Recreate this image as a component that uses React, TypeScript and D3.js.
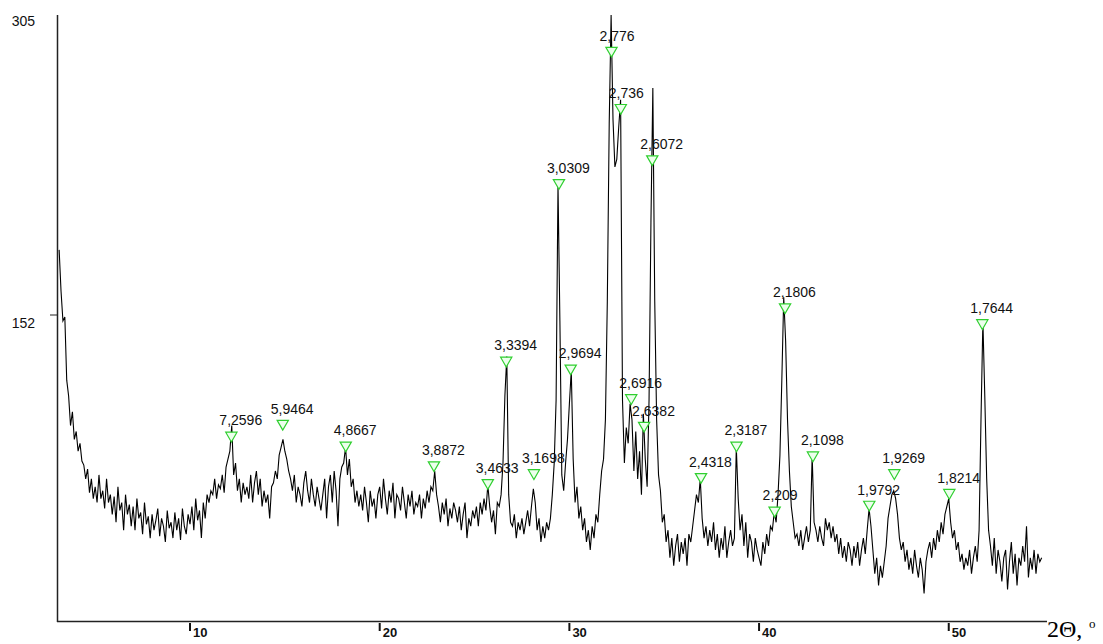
import * as d3 from 'd3';

// diffraction pattern, 2θ from 3.1° in 0.1° steps
const startAngle = 3.1;
const angleStep = 0.1;
const intensity = [
  186, 165, 150, 152, 120, 112, 97, 104, 90,
  94, 84, 88, 79, 77, 70, 75, 63, 70, 60,
  66, 58, 72, 60, 64, 55, 70, 58, 62, 52,
  61, 48, 66, 54, 58, 44, 62, 52, 57, 46,
  56, 44, 60, 50, 53, 42, 58, 47, 51, 40,
  52, 44, 49, 55, 41, 50, 46, 38, 54, 45,
  48, 40, 53, 44, 50, 39, 55, 46, 42, 52,
  47, 56, 44, 60, 49, 54, 40, 58, 50, 62,
  58, 64, 62, 70, 60, 67, 65, 72, 63, 76,
  80, 84, 97, 72, 78, 64, 70, 58, 68, 62,
  66, 60, 72, 58, 68, 74, 62, 70, 56, 64,
  58, 62, 50, 66, 68, 74, 70, 82, 86, 90,
  84, 80, 74, 70, 64, 72, 58, 66, 62, 56,
  68, 74, 64, 58, 70, 62, 56, 66, 60, 54,
  62, 70, 50, 66, 72, 58, 74, 64, 46, 70,
  76, 78, 86, 72, 80, 66, 70, 58, 64, 56,
  62, 54, 66, 58, 48, 64, 56, 60, 50, 62,
  66, 55, 70, 60, 52, 64, 58, 68, 50, 62,
  60, 54, 66, 58, 50, 62, 56, 64, 52, 58,
  56, 62, 50, 60, 55, 64, 58, 66, 64, 74,
  62, 56, 48, 58, 52, 60, 46, 55, 50, 58,
  54, 48, 56, 44, 52, 58, 40, 50, 46, 54,
  50, 56, 46, 58, 52, 60, 54, 67, 56, 48,
  54, 42, 58, 56, 62, 78, 112, 132, 62, 48,
  46, 52, 40, 48, 44, 50, 42, 48, 54, 46,
  56, 65, 58, 44, 50, 38, 46, 40, 48, 44,
  50, 62, 78, 110, 219, 150, 72, 64, 78, 90,
  108, 125, 80, 58, 66, 50, 56, 44, 50, 38,
  44, 34, 46, 40, 52, 48, 62, 74, 80, 100,
  160, 250, 305, 252, 228, 232, 248, 262, 110, 78,
  96, 88, 108, 100, 74, 94, 70, 84, 62, 103,
  80, 66, 110, 200, 268, 160, 100, 72, 64, 48,
  52, 38, 44, 30, 40, 26, 36, 42, 28, 38,
  32, 40, 26, 42, 38, 46, 54, 62, 58, 70,
  50, 40, 46, 36, 44, 38, 48, 34, 42, 30,
  40, 34, 46, 30, 38, 44, 36, 40, 86, 60,
  44, 52, 36, 48, 30, 42, 38, 28, 40, 34,
  30, 26, 38, 32, 42, 36, 46, 44, 53, 48,
  62, 82, 120, 162, 140, 100, 74, 56, 48, 40,
  42, 36, 44, 34, 40, 46, 38, 44, 82, 48,
  44, 38, 46, 40, 36, 50, 44, 48, 40, 46,
  38, 42, 32, 40, 30, 36, 28, 38, 34, 26,
  36, 30, 38, 26, 34, 40, 32, 44, 55, 46,
  34, 22, 30, 16, 26, 20, 28, 36, 50, 56,
  62, 64, 60, 52, 40, 34, 38, 28, 34, 24,
  30, 22, 34, 26, 20, 30, 24, 12, 28, 34,
  38, 30, 40, 34, 44, 38, 48, 42, 52, 56,
  60, 48, 40, 44, 34, 38, 28, 32, 24, 30,
  26, 34, 22, 30, 36, 28, 44, 100, 150, 112,
  70, 44, 36, 26, 40, 22, 34, 28, 18, 30,
  34, 14, 28, 38, 22, 32, 16, 30, 26, 36,
  28, 46, 20, 30, 24, 34, 22, 32, 28, 30,
];

// peak markers: d-spacing label, 2θ position, marker level
const peakLabels = [
  '7,2596', '5,9464', '4,8667', '3,8872', '3,4633', '3,3394', '3,1698', '3,0309',
  '2,9694', '2,776', '2,736', '2,6916', '2,6382', '2,6072', '2,4318', '2,3187',
  '2,209', '2,1806', '2,1098', '1,9792', '1,9269', '1,8214', '1,7644',
];
const peakAngles = [
  12.18, 14.89, 18.21, 22.86, 25.7, 26.67, 28.13, 29.45,
  30.07, 32.22, 32.71, 33.26, 33.94, 34.37, 36.94, 38.81,
  40.82, 41.37, 42.84, 45.81, 47.13, 50.03, 51.77,
];
const markerLevels = [
  92, 98, 87, 77, 68, 130, 73, 220,
  126, 287, 258, 111, 97, 232, 71, 87,
  54, 157, 82, 57, 73, 63, 149,
];

const xTickValues = [10, 20, 30, 40, 50];
const yTickValues = [152, 305];

export default function App() {
  const width = 1103;
  const height = 644;

  const x = d3.scaleLinear().domain([3.04, 55.18]).range([58, 1047]);
  const y = d3.scaleLinear().domain([-1.5, 305]).range([620, 15]);

  const points: [number, number][] = intensity.map((v, i) => [startAngle + i * angleStep, v]);
  const linePath = d3.line<[number, number]>()
    .x(d => x(d[0]))
    .y(d => y(d[1]))(points) || '';

  const tri = d3.symbol().type(d3.symbolTriangle).size(55)() || '';

  return (
    <svg width={width} height={height}
      style={{ position: 'absolute', left: 0, top: 0, background: '#fff' }}
      fontFamily="Arial, 'Liberation Sans', sans-serif">
      {/* axes */}
      <line x1={57.5} x2={57.5} y1={15} y2={622} stroke="#222" strokeWidth={1.5} />
      <line x1={57} x2={1047} y1={621.5} y2={621.5} stroke="#222" strokeWidth={1.5} />

      {yTickValues.map(t => (
        <g key={t}>
          {t !== 305 && <line x1={50} x2={57} y1={y(t) - 2} y2={y(t) - 2} stroke="#222" strokeWidth={1} />}
          <text x={35} y={y(t) + 11} textAnchor="end" fontSize={14} fill="#111">{t}</text>
        </g>
      ))}

      {xTickValues.map(t => (
        <g key={t}>
          <line x1={x(t)} x2={x(t)} y1={623} y2={631} stroke="#111" strokeWidth={2} />
          <text x={x(t) + 3} y={637} fontSize={13} fontWeight="bold" fill="#111">{t}</text>
        </g>
      ))}

      <text x={1047} y={637} fontFamily="'Liberation Serif', 'DejaVu Serif', serif" fontSize={24} fill="#000">2Θ,</text>
      <text x={1089} y={628} fontFamily="'Liberation Serif', 'DejaVu Serif', serif" fontSize={13} fill="#000">o</text>

      {/* pattern */}
      <path d={linePath} fill="none" stroke="#000" strokeWidth={1.1} />

      {/* peak markers */}
      {peakLabels.map((label, i) => {
        const cx = x(peakAngles[i]);
        const cy = y(markerLevels[i]);
        return (
          <g key={label}>
            <path d={tri} transform={`translate(${cx},${cy}) rotate(180)`}
              fill="#ecffec" stroke="#2fcf2f" strokeWidth={1.2} />
            <text x={cx - 12} y={cy - 10} fontSize={14} fill="#111">{label}</text>
          </g>
        );
      })}
    </svg>
  );
}
